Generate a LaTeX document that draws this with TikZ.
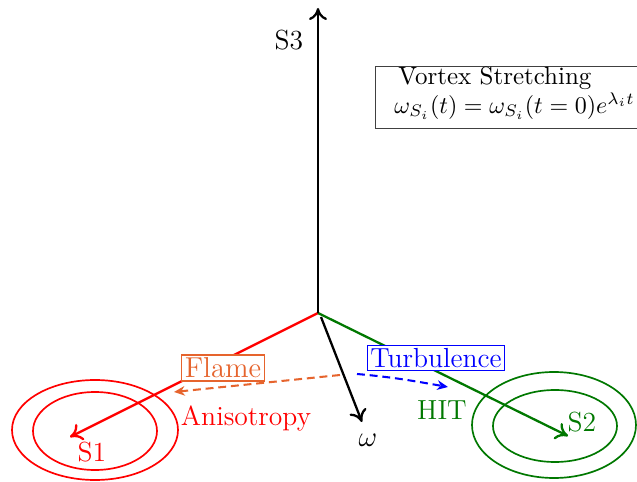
\documentclass[tikz,border=0pt]{standalone}
\usetikzlibrary{arrows.meta}
\definecolor{flameor}{RGB}{230,100,45}
\definecolor{hitgreen}{RGB}{0,120,0}
\begin{document}
\begin{tikzpicture}[x=0.4167pt,y=-0.4167pt,
  axis/.style={line width=0.95pt,-{To[length=5pt,width=7.5pt]}},
  ring/.style={line width=0.7pt},
  lab/.style={font=\fontsize{11.5}{13}\selectfont, inner sep=1pt},
  tagbox/.style={lab, draw, fill=white, line width=0.45pt, inner sep=1.2pt},
  flow/.style={line width=0.85pt, dashed, dash pattern=on 3.3pt off 2pt, -{Stealth[length=4.5pt,width=4pt]}}]
\useasboundingbox (0,0) rectangle (637,482);
% origin and axis ends
\coordinate (O) at (318,313);
\coordinate (wo) at (321,317);
\coordinate (s3) at (318,8);
\coordinate (s1) at (70,437);
\coordinate (s2) at (568,436);
\coordinate (w) at (362,422);
% ellipses
\draw[ring, red] (95,430) ellipse [x radius=83, y radius=50];
\draw[ring, red] (95,431) ellipse [x radius=62, y radius=39];
\draw[ring, hitgreen] (554,425) ellipse [x radius=82, y radius=53];
\draw[ring, hitgreen] (555,426) ellipse [x radius=62, y radius=36];
% axes
\draw[axis, red] (O) -- (s1);
\draw[axis, hitgreen] (O) -- (s2);
\draw[axis, black] (wo) -- (w);
\draw[axis, black] (O) -- (s3);
% labels
\node[lab] (l3) at (289,40) {S3};
\node[lab, red] (l1) at (92,452) {S1};
\node[lab, hitgreen] (l2) at (582,422) {S2};
\node[lab] (lw) at (368,440) {$\omega$};
\node[lab, red] (aniso) at (246,418) {Anisotropy};
\node[lab, hitgreen] (hit) at (442,410) {HIT};
% tag boxes
\node[tagbox, draw=flameor, text=flameor, minimum height=10.4pt, font=\fontsize{12}{14}\selectfont] (flame) at (223,368) {Flame};
\node[tagbox, draw=blue, text=blue] (turb) at (436,358) {Turbulence};
\coordinate (fs) at (340,375);
\coordinate (fe) at (174,392);
\coordinate (ts) at (357,374);
\coordinate (te) at (448,387);
\draw[flow, flameor] (fs) -- (fe);
\draw[flow, blue] (ts) to[out=-5,in=170] (te);
% vortex box
\node[draw=black!75, line width=0.45pt, minimum width=108.8pt, minimum height=26pt, inner sep=0pt] (vbox) at (506.5,97.5) {};
\node[anchor=west, inner sep=0pt, font=\fontsize{10.4}{12}\selectfont] (vt) at (398,78) {Vortex Stretching};
\node[anchor=west, inner sep=0pt] (vf) at (394,106) {$\omega_{S_i}(t)=\omega_{S_i}(t=0)e^{\lambda_i t}$};
\end{tikzpicture}
\end{document}
